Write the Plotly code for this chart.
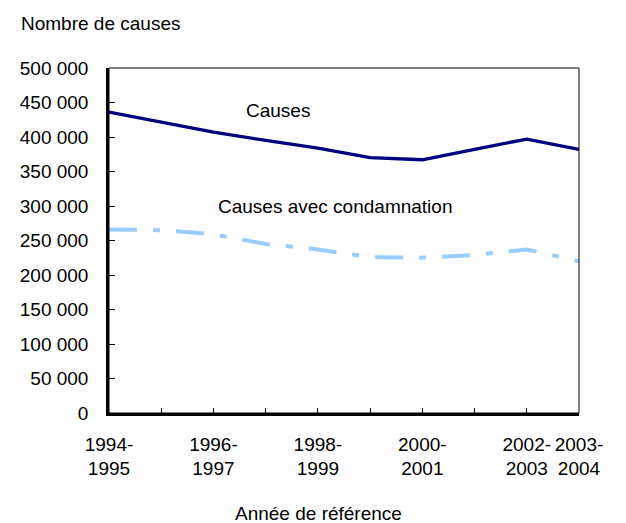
import plotly.graph_objects as go

periods = ["1994-1995", "1995-1996", "1996-1997", "1997-1998", "1998-1999",
           "1999-2000", "2000-2001", "2001-2002", "2002-2003", "2003-2004"]
tick_labels = ["1994-<br>1995", "", "1996-<br>1997", "", "1998-<br>1999",
               "", "2000-<br>2001", "", "2002-<br>2003", "2003-<br>2004"]
causes = [436000, 421000, 407000, 395000, 384000, 370000, 367000, 382000, 397000, 382000]
condamnations = [266000, 265000, 259000, 245000, 237000, 226000, 225000, 229000, 237000, 220000]

x = list(range(len(periods)))
font = dict(family="Liberation Sans, Arial, sans-serif", size=19, color="black")

fig = go.Figure()
fig.add_trace(go.Scatter(x=x, y=causes, mode="lines", name="Causes",
                         line=dict(color="#000080", width=3.3), customdata=periods))
fig.add_trace(go.Scatter(x=x, y=condamnations, mode="lines", name="Causes avec condamnation",
                         line=dict(color="#99CCFF", width=4, dash="28px,16px,7px,16px"),
                         customdata=periods))

fig.add_annotation(x=3.24, y=439000, text="Causes", showarrow=False, font=font)
fig.add_annotation(x=4.33, y=300000, text="Causes avec condamnation", showarrow=False, font=font)
fig.add_annotation(xref="paper", yref="paper", x=-0.192, y=1.13, xanchor="left", yanchor="middle",
                   text="Nombre de causes", showarrow=False, font=font)
fig.add_annotation(xref="paper", yref="paper", x=0.445, y=-0.29, xanchor="center", yanchor="middle",
                   text="Année de référence", showarrow=False, font=font)

fig.add_shape(type="rect", xref="paper", yref="paper", x0=0, y0=0, x1=1, y1=1,
              line=dict(color="black", width=1))

# the page body adds an 8px margin, so the figure is a bit smaller than the window
fig.update_layout(
    width=618, height=515,
    margin=dict(l=98, r=47, t=60, b=110),
    paper_bgcolor="white", plot_bgcolor="white",
    showlegend=False, font=font, separators=", ",
)
fig.update_xaxes(range=[0, 9], tickvals=x, ticktext=tick_labels, ticks="inside", ticklen=5,
                 tickcolor="black", showline=True, linecolor="black", linewidth=2.5,
                 showgrid=False, zeroline=False, ticklabelstandoff=12)
fig.update_yaxes(range=[0, 500000], dtick=50000, tickformat=",d", ticks="inside", ticklen=6,
                 tickcolor="black", showline=True, linecolor="black", linewidth=2.5,
                 showgrid=False, zeroline=False, ticklabelstandoff=14)

fig.write_html("out.html")
